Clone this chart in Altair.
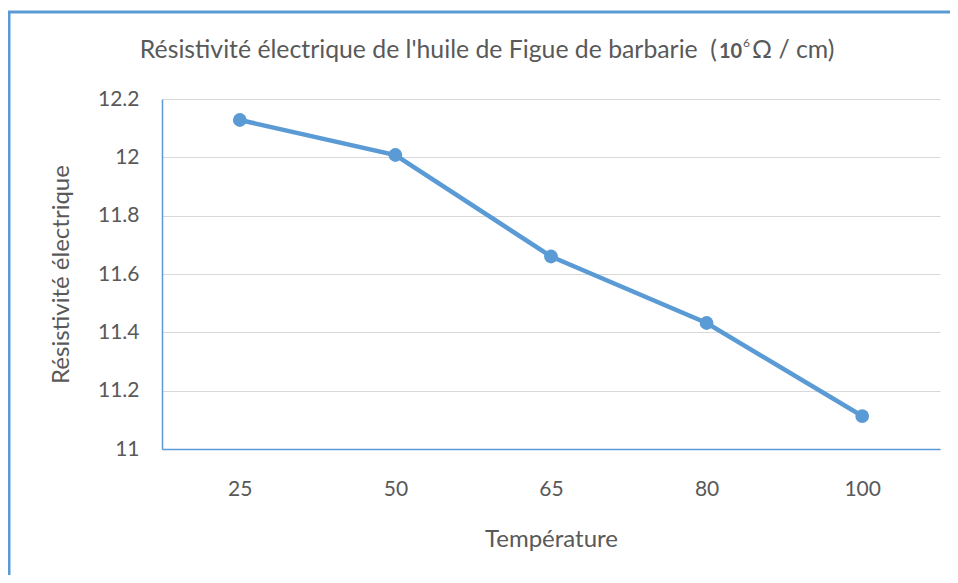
import altair as alt
import pandas as pd

temperatures = ["25", "50", "65", "80", "100"]
resistivity = [12.128, 12.008, 11.66, 11.432, 11.113]
y_ticks = [11, 11.2, 11.4, 11.6, 11.8, 12, 12.2]

title_main = "Résistivité électrique de l'huile de Figue de barbarie\u00a0\u00a0("
title_bold = "10"
title_sup = "6"
title_tail = "Ω / cm)"
x_title = "Température"
y_title = "Résistivité électrique"

BLUE = "#5b9bd5"
GREY = "#595959"
FONT = "Lato"

df = pd.DataFrame({"T": temperatures, "R": resistivity})

x_enc = alt.X("T:N", sort=temperatures, scale=alt.Scale(paddingInner=0, paddingOuter=0),
              axis=alt.Axis(title=x_title, labelAngle=0, labelPadding=29, ticks=False,
                            domainColor=BLUE, domainWidth=1.5, titlePadding=28))
y_enc = alt.Y("R:Q", scale=alt.Scale(domain=[11, 12.2], nice=False, zero=False),
              axis=alt.Axis(title=y_title, values=y_ticks, format="~g", ticks=False,
                            labelPadding=23, domainColor=BLUE, domainWidth=1.5,
                            gridColor="#d9d9d9", titlePadding=24))

line = alt.Chart(df).mark_line(color=BLUE, strokeWidth=4.5).encode(x=x_enc, y=y_enc)
pts = alt.Chart(df).mark_circle(color=BLUE, size=190, opacity=1).encode(
    x=alt.X("T:N", sort=temperatures), y="R:Q")

def txt(s, **kw):
    return alt.Chart(pd.DataFrame({"s": [s]})).mark_text(font=FONT, color=GREY, **kw).encode(text="s:N")

t1 = txt(title_main, fontSize=24.8, align="right", baseline="alphabetic", x=555, y=-41)
t2 = txt(title_bold, fontSize=20, fontWeight="bold", align="left", baseline="alphabetic", x=557, y=-41)
t3 = txt(title_sup, fontSize=12, align="left", baseline="alphabetic", x=581, y=-52)
t4 = txt(title_tail, fontSize=24.8, align="left", baseline="alphabetic", x=590, y=-41)

frame_top = alt.Chart(pd.DataFrame({"a": [0]})).mark_rule(color=BLUE, strokeWidth=3).encode(
    x=alt.value(-154), x2=alt.value(800), y=alt.value(-87))
frame_left = alt.Chart(pd.DataFrame({"a": [0]})).mark_rule(color=BLUE, strokeWidth=3).encode(
    x=alt.value(-153), y=alt.value(-88), y2=alt.value(500))

chart = alt.layer(frame_top, frame_left, line, pts, t1, t2, t3, t4).properties(
    width=778, height=350,
    autosize=alt.AutoSizeParams(type="none"),
    padding={"left": 154, "top": 91, "right": 10, "bottom": 126},
).configure_view(stroke=None).configure_axis(
    labelFont=FONT, titleFont=FONT, labelFontSize=21, titleFontSize=24,
    labelColor=GREY, titleColor=GREY, titleFontWeight="normal", grid=True
).configure_axisX(grid=False)

chart.save("out.html", embed_options={"renderer": "svg", "actions": False})
